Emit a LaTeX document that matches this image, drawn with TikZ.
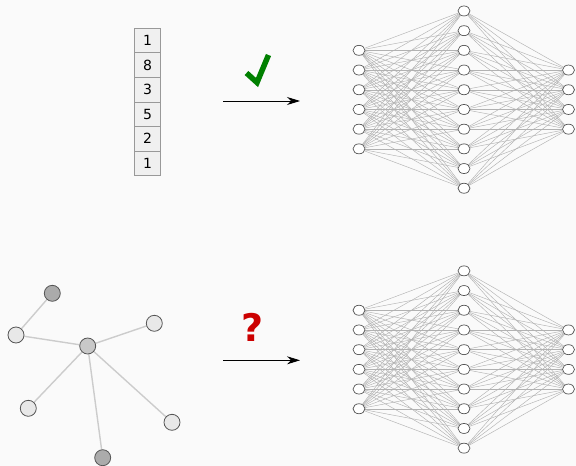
\documentclass[tikz,border=0pt]{standalone}
\usepackage{fontspec}
\setmainfont{DejaVu Sans}
\usetikzlibrary{shapes.geometric,arrows.meta}
\definecolor{bgc}{HTML}{FAFAFA}
\definecolor{cellfill}{HTML}{F0F0F0}
\definecolor{cellline}{HTML}{999999}
\definecolor{nnedge}{HTML}{B2B2B2}
\definecolor{nnline}{HTML}{555555}
\definecolor{gedge}{HTML}{CCCCCC}
\definecolor{gdark}{HTML}{ABABAB}
\definecolor{gmid}{HTML}{C8C8C8}
\definecolor{glight}{HTML}{E8E8E8}
\definecolor{okgreen}{HTML}{008000}
\definecolor{qred}{HTML}{CC0000}
\pgfdeclarelayer{bglayer}
\pgfdeclarelayer{edgelayer}
\pgfsetlayers{bglayer,edgelayer,main}
\tikzset{
  neuron/.style={ellipse,draw=nnline,line width=0.7pt,fill=white,minimum width=12pt,minimum height=10pt,inner sep=0pt},
  nnwire/.style={draw=nnedge,line width=0.45pt},
  cell/.style={rectangle,draw=cellline,line width=0.8pt,fill=cellfill,minimum width=26.4pt,minimum height=24.6pt,inner sep=0pt,font=\fontsize{14}{16}\selectfont},
  flow/.style={draw=black,line width=0.8pt,-{Stealth[length=13pt,width=8pt]}},
  gnode/.style={circle,draw=nnline,line width=0.8pt,minimum size=16pt,inner sep=0pt},
  gwire/.style={draw=gedge,line width=1.4pt},
}
\newcommand{\drawnet}[2]{%
  % #1 prefix, #2 center y
  \foreach \k in {1,...,6} {\node[neuron] (#1i\k) at (359,{#2+(\k-3.5)*19.7}) {};}
  \foreach \k in {1,...,10} {\node[neuron] (#1h\k) at (464,{#2+(\k-5.5)*19.7}) {};}
  \foreach \k in {1,...,4} {\node[neuron] (#1o\k) at (568.5,{#2+(\k-2.5)*19.7}) {};}
  \begin{pgfonlayer}{edgelayer}
    \foreach \a in {1,...,6} {\foreach \b in {1,...,10} {\draw[nnwire] (#1i\a) -- (#1h\b);}}
    \foreach \a in {1,...,10} {\foreach \b in {1,...,4} {\draw[nnwire] (#1h\a) -- (#1o\b);}}
  \end{pgfonlayer}
}
\begin{document}
\begin{tikzpicture}[x=1pt,y=-1pt]
\begin{pgfonlayer}{bglayer}
  \fill[bgc] (0,0) rectangle (576,466);
\end{pgfonlayer}
\useasboundingbox (0,0) rectangle (576,466);

% vector
\foreach \v [count=\k] in {1,8,3,5,2,1} {
  \node[cell] (c\k) at (147.5,{40.6+(\k-1)*24.55}) {\v};
}

% networks
\drawnet{t}{99.6}
\drawnet{b}{359.5}

% arrows
\coordinate (ta0) at (223,101);
\coordinate (ta1) at (300,101);
\draw[flow] (ta0) -- (ta1);
\coordinate (ba0) at (223,360.3);
\coordinate (ba1) at (300,360.3);
\draw[flow] (ba0) -- (ba1);

% check mark
\draw[okgreen,line width=5.5pt,miter limit=10] (246.5,73) -- (257,82.5) -- (268.5,55);

% question mark
\node[text=qred,font=\bfseries\fontsize{38}{40}\selectfont,inner sep=0pt] (qm) at (252.7,327.5) {?};

% graph
\node[gnode,fill=gdark] (ga) at (52.3,293.3) {};
\node[gnode,fill=glight] (gb) at (16,335) {};
\node[gnode,fill=gmid] (gc) at (87.7,346) {};
\node[gnode,fill=glight] (gd) at (154.3,323.3) {};
\node[gnode,fill=glight] (ge) at (28.3,408.3) {};
\node[gnode,fill=glight] (gf) at (172,422.3) {};
\node[gnode,fill=gdark] (gg) at (102.7,457.7) {};
\begin{pgfonlayer}{edgelayer}
  \draw[gwire] (ga) -- (gb);
  \draw[gwire] (gb) -- (gc);
  \draw[gwire] (gc) -- (gd);
  \draw[gwire] (gc) -- (ge);
  \draw[gwire] (gc) -- (gf);
  \draw[gwire] (gc) -- (gg);
\end{pgfonlayer}
\end{tikzpicture}
\end{document}
